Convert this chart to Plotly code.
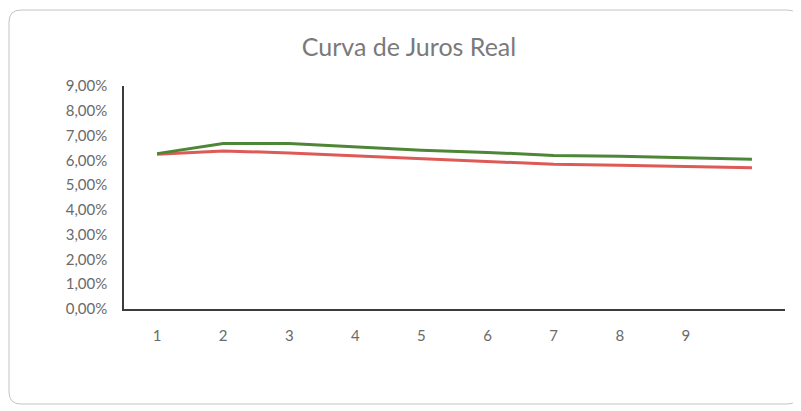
import plotly.graph_objects as go

categories = [1, 2, 3, 4, 5, 6, 7, 8, 9, 10]
tick_labels = ["1", "2", "3", "4", "5", "6", "7", "8", "9", ""]
serie_verde = [0.0627, 0.0668, 0.0668, 0.0653, 0.0641, 0.0632, 0.0620, 0.0616, 0.0610, 0.0604]
serie_vermelha = [0.0625, 0.0638, 0.0630, 0.0619, 0.0608, 0.0596, 0.0584, 0.0580, 0.0574, 0.0570]

# page body has an 8px margin, so the figure starts at (8, 8)
OFF = 8
W, H = 793, 403
ML, MR, MT, MB = 116, 16, 78, 102
pw, ph = W - ML - MR, H - MT - MB

def px(x):
    return (x - OFF - ML) / pw

def py(y):
    return (OFF + H - MB - y) / ph

fig = go.Figure()
fig.add_trace(go.Scatter(x=[str(c) for c in categories], y=serie_vermelha, mode="lines",
                         name="Série 2", line=dict(color="#de5a56", width=3)))
fig.add_trace(go.Scatter(x=[str(c) for c in categories], y=serie_verde, mode="lines",
                         name="Série 1", line=dict(color="#4e8638", width=3)))

# rounded border of chart area (page pixel coordinates)
x0, x1, y0, y1, r = 9, 799, 10, 404, 12
path = (f"M {px(x0 + r)} {py(y0)} L {px(x1 - r)} {py(y0)} Q {px(x1)} {py(y0)} {px(x1)} {py(y0 + r)} "
        f"L {px(x1)} {py(y1 - r)} Q {px(x1)} {py(y1)} {px(x1 - r)} {py(y1)} "
        f"L {px(x0 + r)} {py(y1)} Q {px(x0)} {py(y1)} {px(x0)} {py(y1 - r)} "
        f"L {px(x0)} {py(y0 + r)} Q {px(x0)} {py(y0)} {px(x0 + r)} {py(y0)} Z")
fig.add_shape(type="path", path=path, xref="paper", yref="paper",
              line=dict(color="#c4c4c4", width=1))

fig.update_layout(
    width=W, height=H,
    margin=dict(l=ML, r=MR, t=MT, b=MB),
    paper_bgcolor="white", plot_bgcolor="white",
    showlegend=False,
    title=dict(text="Curva de Juros Real", x=(409 - OFF) / W, xanchor="center",
               y=1 - (47 - OFF) / H, yanchor="middle",
               font=dict(family="Lato", size=25, color="#7a7a7a")),
    font=dict(family="Lato", color="#6a6a6a"),
    separators=",.",
)
fig.update_xaxes(type="category", tickvals=[str(c) for c in categories], ticktext=tick_labels,
                 range=[-0.5, 9.5], showgrid=False, zeroline=False,
                 showline=True, linecolor="#3c3c3c", linewidth=1.5,
                 ticks="", ticklabelstandoff=12, tickfont=dict(size=15, color="#6a6a6a"))
fig.update_yaxes(range=[0, 0.09], dtick=0.01, tickformat=".2%",
                 showgrid=False, zeroline=False, showline=True, linecolor="#3c3c3c", linewidth=1.5,
                 ticks="", ticklabelstandoff=12, tickfont=dict(size=15, color="#6a6a6a"))

fig.write_html("out.html")
